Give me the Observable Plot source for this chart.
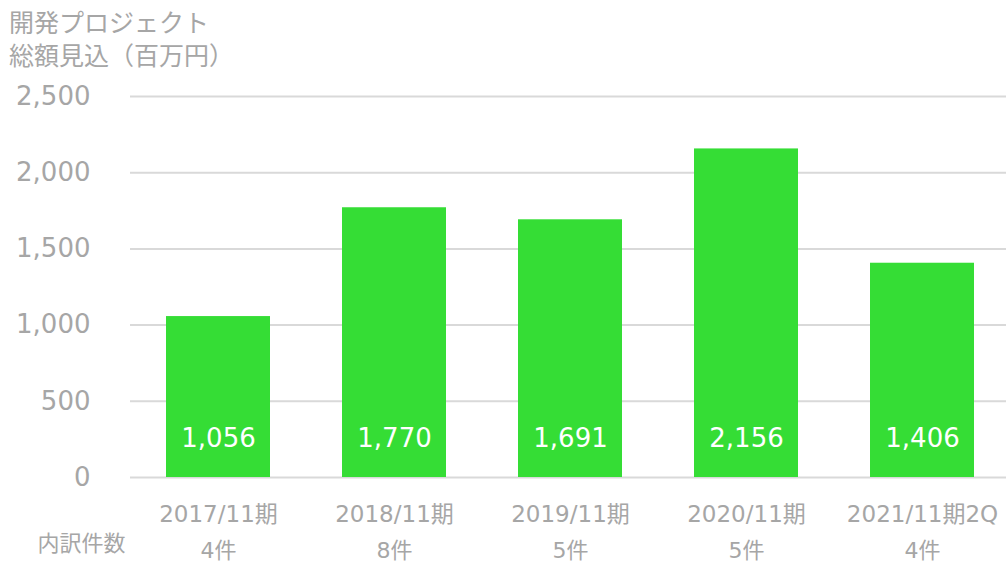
<!DOCTYPE html>
<html><head><meta charset="utf-8">
<script src="https://cdn.jsdelivr.net/npm/d3@7"></script>
<script src="https://cdn.jsdelivr.net/npm/@observablehq/plot@0.6"></script>
<style>
body{margin:0;background:#fff;}
#wrap{position:relative;width:1006px;height:563px;font-family:"DejaVu Sans","Noto Sans CJK JP",sans-serif;}
#title{position:absolute;left:9px;top:5px;color:#a6a6a6;font-size:25px;line-height:33px;font-family:"Noto Sans CJK JP",sans-serif;}
</style></head>
<body><div id="wrap"><div id="title">開発プロジェクト<br>総額見込（百万円）</div></div>
<script>
const periods = ["2017/11期","2018/11期","2019/11期","2020/11期","2021/11期2Q"];
const totals = [1056,1770,1691,2156,1406];
const counts = ["4件","8件","5件","5件","4件"];
const yTicks = [0,500,1000,1500,2000,2500];
const rowLabel = "内訳件数";
const data = periods.map((p,i)=>({period:p,total:totals[i],count:counts[i]}));
const gray = "#a6a6a6";
const font = "'DejaVu Sans','Noto Sans CJK JP',sans-serif";
const chart = Plot.plot({
  width:1006,height:563,
  marginTop:96,marginBottom:86,marginLeft:130,marginRight:0,
  style:{fontFamily:font,background:"transparent"},
  x:{domain:periods,range:[129,1011],paddingInner:0.41,paddingOuter:0.205,axis:null},
  y:{domain:[0,2500],axis:null},
  marks:[
    Plot.ruleY(yTicks,{stroke:"#d9d9d9",strokeWidth:2}),
    Plot.barY(data,{x:"period",y:"total",fill:"#35dd35"}),
    Plot.text(yTicks,{x:null,y:d=>d,text:d=>d3.format(",")(d),frameAnchor:"left",textAnchor:"end",dx:-40,fill:gray,fontSize:26}),
    Plot.text(data,{x:"period",y:0,text:d=>d3.format(",")(d.total),fill:"white",fontSize:26,dy:-39}),
    Plot.text(data,{x:"period",y:0,text:"period",fill:gray,fontSize:23,dy:37}),
    Plot.text(data,{x:"period",y:0,text:"count",fill:gray,fontSize:22,dy:73}),
    Plot.text([rowLabel],{text:d=>d,frameAnchor:"bottom-left",dx:-49,dy:73,fill:gray,fontSize:22,textAnchor:"middle"})
  ]
});
document.getElementById("wrap").prepend(chart);
chart.style.position="absolute";chart.style.left="0";chart.style.top="0";
</script></body></html>
